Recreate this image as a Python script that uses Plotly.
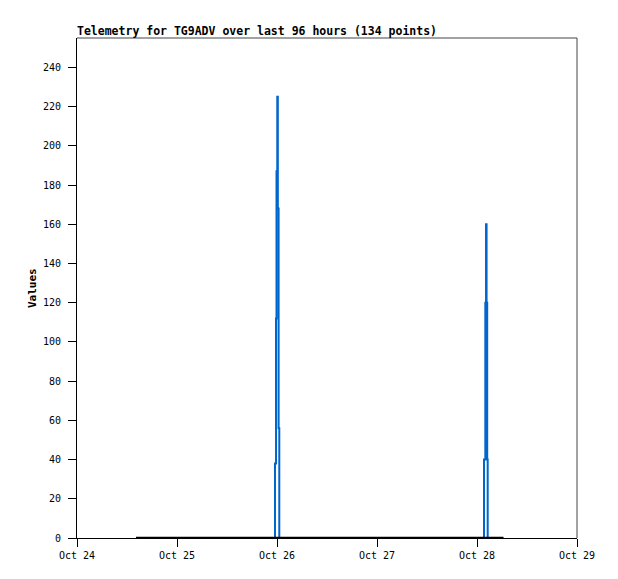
import plotly.graph_objects as go

# Data
blue_times = ["2024-10-24 14:10", "2024-10-25 23:31", "2024-10-25 23:46", "2024-10-25 23:53",
              "2024-10-26 00:04", "2024-10-26 00:12", "2024-10-26 00:23", "2024-10-26 00:33",
              "2024-10-28 01:41", "2024-10-28 02:00", "2024-10-28 02:10", "2024-10-28 02:18",
              "2024-10-28 02:27", "2024-10-28 02:34", "2024-10-28 06:20"]
blue_values = [0, 38, 112, 187, 225, 168, 56, 0, 40, 120, 160, 120, 40, 0, 0]

black_times = ["2024-10-24 14:10", "2024-10-28 06:20"]
black_values = [0, 0]

x_ticks = ["2024-10-24", "2024-10-25", "2024-10-26", "2024-10-27", "2024-10-28", "2024-10-29"]
x_tick_labels = ["Oct 24", "Oct 25", "Oct 26", "Oct 27", "Oct 28", "Oct 29"]
y_ticks = list(range(0, 241, 20))

title_text = "Telemetry for TG9ADV over last 96 hours (134 points)"
y_title = "Values"

W, H = 610, 571
L, R, T, B = 69, 41, 30, 41
fig = go.Figure()
fig.add_trace(go.Scatter(x=blue_times, y=blue_values, mode="lines", line_shape="hv",
                         line=dict(color="#0066CC", width=2), showlegend=False))
fig.add_trace(go.Scatter(x=black_times, y=black_values, mode="lines",
                         line=dict(color="#000000", width=2.5), showlegend=False))

mono = "DejaVu Sans Mono"
fig.update_layout(
    width=W, height=H,
    margin=dict(l=L, r=R, t=T, b=B, pad=0, autoexpand=False),
    paper_bgcolor="white", plot_bgcolor="white",
    title=dict(text="<b>" + title_text + "</b>", x=L/W, xanchor="left",
               y=1 - 23/H, yanchor="middle", font=dict(family=mono, size=11.5, color="black")),
    font=dict(family=mono, size=10, color="black"),
    xaxis=dict(type="date", range=["2024-10-24", "2024-10-29"], tickvals=x_ticks, ticktext=x_tick_labels,
               showgrid=False, zeroline=False, showline=True, linecolor="black", linewidth=1,
               ticks="outside", ticklen=8, tickcolor="black", tickwidth=1, automargin=False,
               tickfont=dict(family=mono, size=10, color="black")),
    yaxis=dict(range=[0, 255], tickvals=y_ticks, showgrid=False, zeroline=False,
               showline=True, linecolor="black", linewidth=1, automargin=False,
               ticks="outside", ticklen=8, tickcolor="black", tickwidth=1,
               ticklabelstandoff=5,
               tickfont=dict(family=mono, size=10, color="black")),
    annotations=[
        dict(text="<b>" + y_title + "</b>", xref="paper", yref="paper",
             x=(24 - L) / (W - L - R), y=0.5, xanchor="center", yanchor="middle",
             textangle=-90, showarrow=False, font=dict(family=mono, size=11, color="black")),
    ],
    shapes=[
        dict(type="line", xref="paper", yref="paper", x0=0, x1=1, y0=1, y1=1, line=dict(color="#444444", width=1)),
        dict(type="line", xref="paper", yref="paper", x0=1, x1=1, y0=0, y1=1, line=dict(color="#444444", width=1)),
    ],
)

fig.write_html("out.html")
